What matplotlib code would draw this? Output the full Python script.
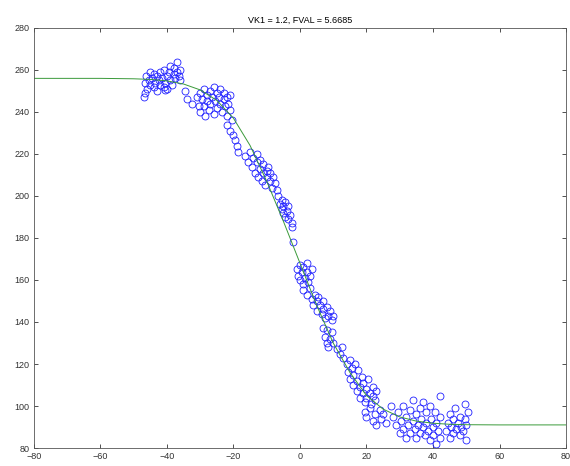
import numpy as np
import matplotlib
matplotlib.use("Agg")
import matplotlib.pyplot as plt

# fitted curve
curve_x = [-80, -60, -50, -45, -40, -35, -30, -25, -20, -15, -10, -5, 0,
           5, 10, 15, 20, 25, 30, 35, 40, 45, 50, 60, 80]
curve_y = [256, 256, 255.8, 255.5, 254.8, 253.3, 250.5, 245.5, 237, 224, 207, 188, 168,
           148, 130, 116, 105, 98.5, 94.8, 92.8, 91.8, 91.3, 91.1, 91, 91]

# measured samples (x, y)
pts = [
    # plateau cluster
    (-47.0, 247), (-46.5, 254), (-46.2, 257), (-46, 251), (-45.5, 255), (-45, 259), (-45, 253),
    (-44.5, 256), (-44, 252), (-44, 258), (-43.5, 254), (-43, 257), (-43, 250), (-42.5, 255),
    (-42, 253), (-42, 259), (-41.5, 256), (-41, 252), (-41, 260), (-40.5, 254), (-40, 257),
    (-40, 251), (-39.5, 259), (-39, 255), (-39, 262), (-38.5, 253), (-38, 258), (-38, 261),
    (-37.5, 256), (-37, 259), (-37, 264), (-36.5, 257), (-36, 260), (-36, 255), (-46.6, 249),
    (-40.6, 250.5),
    # shoulder
    (-34.6, 250), (-34, 246), (-32.5, 244), (-31, 247), (-30.5, 243), (-30, 249), (-30, 240),
    (-29.5, 246), (-29, 251), (-29, 243), (-28.5, 238), (-28, 248), (-28, 245), (-27.5, 241),
    (-27, 250), (-27, 244), (-26.5, 247), (-26, 252), (-26, 239), (-25.5, 245), (-25, 249),
    (-25, 242), (-24.5, 247), (-24, 244), (-24, 251), (-23.5, 240), (-23, 246), (-23, 249),
    (-22.5, 243), (-22, 247), (-22, 238), (-21.5, 244), (-21, 241), (-21, 248), (-22, 234),
    (-21, 231), (-20.5, 236), (-20, 229), (-19.5, 226.7), (-19, 224), (-18.6, 221),
    # upper slope
    (-16.5, 219), (-15.5, 216), (-15, 221), (-14.5, 214), (-14, 218), (-13.5, 211), (-13, 216),
    (-13, 220), (-12.5, 209), (-12, 213), (-12, 217), (-11.5, 207), (-11, 211), (-11, 215),
    (-10.5, 205), (-10, 212), (-10, 209), (-9.5, 214), (-9, 207), (-9, 211), (-8.5, 204),
    (-8, 209), (-7.5, 206), (-7, 203),
    (-6.5, 200), (-6, 196), (-5.5, 194), (-5.5, 198), (-5, 192), (-5, 195), (-4.5, 197),
    (-4.5, 190), (-4, 193), (-3.5, 189), (-3.5, 195), (-3, 191), (-2.5, 187), (-2.5, 185),
    (-2, 178),
    # middle
    (-1, 165), (-0.5, 162), (0, 167), (0, 160), (0.5, 164), (1, 158), (1, 166), (1.5, 161),
    (2, 164), (2, 168), (2.5, 159), (3, 162), (3.5, 165), (1, 155), (2, 153), (3, 156),
    (3.5, 151), (4, 148), (4.5, 153), (5, 150), (5, 145), (5.5, 152), (6, 148), (6.5, 144),
    (7, 150), (7, 146), (7.5, 142), (8, 147), (8.5, 143), (9, 145), (9.5, 141), (10, 143),
    (7, 137), (7.5, 133), (8, 130), (8, 136), (8.5, 128), (9, 132), (9.5, 135), (10, 130),
    (11, 127), (12, 125), (13, 123), (12.5, 128),
    # lower slope
    (14, 120), (14.5, 116), (15, 122), (15, 113), (15.5, 118), (16, 110), (16, 115),
    (16.5, 120), (17, 107), (17, 112), (17.5, 117), (18, 104), (18, 109), (18.5, 114),
    (19, 106), (19, 111), (19.5, 102), (20, 108), (20, 104), (20.5, 113), (21, 106),
    (21.5, 101), (22, 109), (22, 105), (22.5, 103), (23, 107),
    (19.5, 97), (20, 95), (21, 99), (22, 93), (22.5, 96), (23, 91), (24, 98), (24.5, 94),
    (25, 96), (26, 92),
    # tail
    (27.5, 100), (28, 95), (29, 91), (29.5, 97), (30, 87), (30.5, 93), (31, 89), (31, 100),
    (32, 85), (32, 95), (32.5, 91), (33, 98), (33, 87), (34, 93), (34, 103), (34.5, 89),
    (35, 85), (35, 96), (35.5, 91), (36, 99), (36, 87), (36.5, 94), (37, 90), (37, 102),
    (37.5, 86), (38, 97), (38, 92), (38.5, 88), (39, 100), (39, 84), (39.5, 94), (40, 90),
    (40, 86), (40.5, 97), (41, 82), (41, 92), (41.5, 88), (42, 95), (42, 85), (42, 105),
    (44, 88), (44.5, 92), (45, 85), (45, 96), (45.5, 90), (46, 87), (46, 94), (46.5, 99),
    (47, 89), (47.5, 92), (48, 86), (48, 95), (48.5, 90), (49, 88), (49.5, 94), (49.5, 101),
    (50, 91), (50, 84), (50.5, 97),
]
data_x = [p[0] for p in pts]
data_y = [p[1] for p in pts]

x_ticks = [-80, -60, -40, -20, 0, 20, 40, 60, 80]
y_ticks = [80, 100, 120, 140, 160, 180, 200, 220, 240, 260, 280]

plt.rcParams['font.family'] = ['Liberation Sans', 'DejaVu Sans']

fig = plt.figure(figsize=(5.70, 4.66), dpi=100)
ax = fig.add_axes([0.0596, 0.0386, 0.9334, 0.9014])

ax.plot(data_x, data_y, 'o', markersize=5, markerfacecolor='none',
        markeredgecolor='#2020ff', markeredgewidth=0.6)
ax.plot(curve_x, curve_y, '-', color='#3a9a3a', linewidth=0.7)

ax.set_xlim(-80, 80)
ax.set_ylim(80, 280)
ax.set_xticks(x_ticks)
ax.set_yticks(y_ticks)
ax.tick_params(direction='in', length=3, width=0.6, labelsize=6.5, colors='#333333',
               top=True, right=True, pad=3)
for s in ax.spines.values():
    s.set_linewidth(0.6)
    s.set_color('#555555')
ax.set_title('VK1 = 1.2, FVAL = 5.6685', fontsize=6.5, pad=4)

fig.savefig('out.png', dpi=100)
